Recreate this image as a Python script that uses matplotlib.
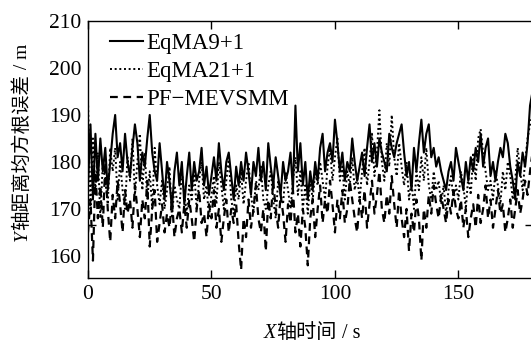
import matplotlib
matplotlib.use("Agg")
import matplotlib.pyplot as plt
import numpy as np

t = list(range(0, 181))

eqma9 = [
    175, 188, 172, 186, 176, 185, 178, 183, 174, 180,
    186, 190, 181, 184, 178, 186, 180, 177, 183, 188,
    184, 176, 182, 179, 185, 190, 182, 178, 176, 184,
    178, 172, 180, 176, 170, 178, 182, 175, 180, 171,
    177, 182, 174, 180, 176, 178, 183, 175, 179, 173,
    177, 181, 176, 184, 178, 174, 180, 182, 177, 172,
    179, 175, 180, 176, 182, 178, 173, 180, 177, 183,
    176, 180, 174, 184, 179, 175, 181, 177, 173, 180,
    176, 178, 182, 174, 192, 178, 184, 175, 180, 172,
    178, 174, 180, 176, 183, 186, 178, 182, 184, 180,
    189, 184, 178, 182, 176, 180, 178, 185, 180, 176,
    179, 182, 177, 183, 188, 180, 184, 179, 185, 182,
    180, 178, 186, 183, 181, 184, 186, 188, 182, 177,
    180, 174, 183, 178, 184, 189, 182, 186, 188, 181,
    183, 179, 181, 178, 176, 174, 178, 180, 176, 183,
    180, 177, 174, 180, 176, 181, 178, 183, 180, 186,
    179, 183, 185, 177, 180, 176, 180, 183, 181, 186,
    184, 179, 176, 172, 180, 177, 182, 179, 184, 192, 195,
]

eqma21 = [
    193, 170, 185, 174, 182, 168, 180, 176, 171, 183,
    178, 183, 172, 180, 174, 170, 181, 176, 185, 173,
    180, 186, 174, 182, 172, 178, 170, 183, 175, 171,
    176, 170, 174, 179, 168, 175, 172, 170, 178, 173,
    169, 175, 172, 178, 170, 176, 180, 172, 175, 168,
    173, 177, 171, 180, 175, 170, 176, 181, 172, 169,
    175, 172, 178, 171, 176, 180, 173, 169, 176, 174,
    179, 172, 170, 175, 178, 172, 168, 176, 173, 171,
    178, 174, 170, 176, 181, 173, 178, 170, 175, 169,
    176, 172, 178, 175, 180, 176, 172, 179, 183, 176,
    181, 185, 176, 179, 172, 178, 175, 181, 174, 177,
    172, 178, 183, 175, 180, 186, 177, 182, 191, 180,
    176, 184, 179, 190, 181, 177, 184, 179, 175, 180,
    172, 176, 170, 178, 174, 181, 176, 183, 175, 172,
    178, 174, 176, 171, 175, 169, 174, 177, 172, 175,
    172, 178, 175, 170, 177, 173, 182, 176, 185, 187,
    182, 178, 174, 176, 172, 178, 175, 171, 178, 174,
    180, 177, 172, 176, 183, 178, 174, 180, 185, 188, 190,
]

pfmevsmm = [
    165, 172, 159, 178, 168, 175, 166, 180, 170, 163,
    173, 168, 176, 171, 165, 174, 169, 172, 166, 175,
    170, 164, 172, 168, 176, 162, 170, 174, 163, 167,
    171, 165, 169, 166, 172, 164, 168, 170, 165, 171,
    166, 172, 168, 163, 170, 174, 167, 169, 164, 171,
    168, 174, 166, 170, 163, 168, 172, 165, 170, 167,
    171, 163, 157, 168, 164, 172, 166, 170, 175, 168,
    165, 170, 161, 172, 168, 176, 170, 166, 173, 169,
    163, 171, 167, 174, 165, 169, 162, 170, 166, 158,
    168, 172, 164, 170, 175, 167, 172, 169, 176, 171,
    165, 172, 168, 174, 167, 170, 176, 172, 168, 165,
    172, 168, 174, 166, 171, 176, 169, 173, 178, 170,
    167, 173, 169, 177, 171, 166, 174, 168, 164, 170,
    161, 169, 165, 172, 168, 159, 170, 166, 173, 169,
    175, 171, 168, 173, 170, 167, 172, 169, 174, 170,
    168, 172, 166, 170, 164, 168, 171, 166, 173, 167,
    170, 175, 168, 172, 166, 170, 174, 169, 171, 165,
    168, 172, 166, 170, 174, 169, 172, 176, 173, 178, 182,
]

series_labels = ["EqMA9+1", "EqMA21+1", "PF\u2212MEVSMM"]
xticks = [0, 50, 100, 150]
yticks = [160, 170, 180, 190, 200, 210]
xlabel_parts = ["X", "轴时间", " / s"]
ylabel_parts = ["Y", "轴距离均方根误差", " / m"]

SERIF = ['Liberation Serif', 'DejaVu Serif']
CJK = ['Noto Sans CJK SC', 'DejaVu Sans']
plt.rcParams['font.family'] = SERIF

W, H = 531, 343
fig = plt.figure(figsize=(W / 100, H / 100), dpi=100)
left, right, top, bottom = 88, 532.5, 21, 278
ax = fig.add_axes([left / W, 1 - bottom / H, (right - left) / W, (bottom - top) / H])

ax.plot(t, eqma9, color='black', lw=1.5, ls='-', label=series_labels[0])
ax.plot(t, eqma21, color='black', lw=1.4, ls=(0, (1, 1.4)), label=series_labels[1])
ax.plot(t, pfmevsmm, color='black', lw=1.6, ls=(0, (3.5, 2.5)), label=series_labels[2])

ax.set_xlim(0, 180)
ax.set_ylim(155.3, 210)
ax.set_xticks(xticks)
ax.set_yticks(yticks)
ax.tick_params(axis='x', direction='in', length=6, width=1, top=True, labelsize=15.5, pad=5)
ax.tick_params(axis='y', length=0, labelsize=15.5, pad=5)
ax.set_yticks([200, 166.6], minor=True)
ax.tick_params(axis='y', which='minor', direction='in', length=6, width=1, left=True, right=True)
for s in ax.spines.values():
    s.set_linewidth(1.0)

leg = ax.legend(loc='upper left', bbox_to_anchor=(0.0495, 0.952), frameon=False, fontsize=16.5,
                handlelength=1.45, handletextpad=0.15, labelspacing=0.3, borderaxespad=0, borderpad=0)


def compose(parts, fams, styles, cx, cy, rot, size):
    """Place text parts side by side; cx, cy: pixel coords from top-left; baseline-centred."""
    r = fig.canvas.get_renderer()
    widths = []
    for s, f, st in zip(parts, fams, styles):
        tt = fig.text(0, 0, s, family=f, style=st, fontsize=size)
        widths.append(tt.get_window_extent(r).width)
        tt.remove()
    total = sum(widths)
    pos = -total / 2
    for s, f, st, w in zip(parts, fams, styles, widths):
        off = pos + w / 2
        if rot == 0:
            x, y = cx + off, cy
        else:
            x, y = cx, cy - off
        fig.text(x / W, 1 - y / H, s, family=f, style=st, fontsize=size, rotation=rot,
                 rotation_mode='anchor', ha='center', va='baseline')
        pos += w


fams = [SERIF, CJK, SERIF]
styles = ['italic', 'normal', 'normal']
compose(xlabel_parts, fams, styles, 312, 338, 0, 14.5)
compose(ylabel_parts, fams, styles, 27, 142, 90, 14)

fig.savefig("out.png", dpi=100)
